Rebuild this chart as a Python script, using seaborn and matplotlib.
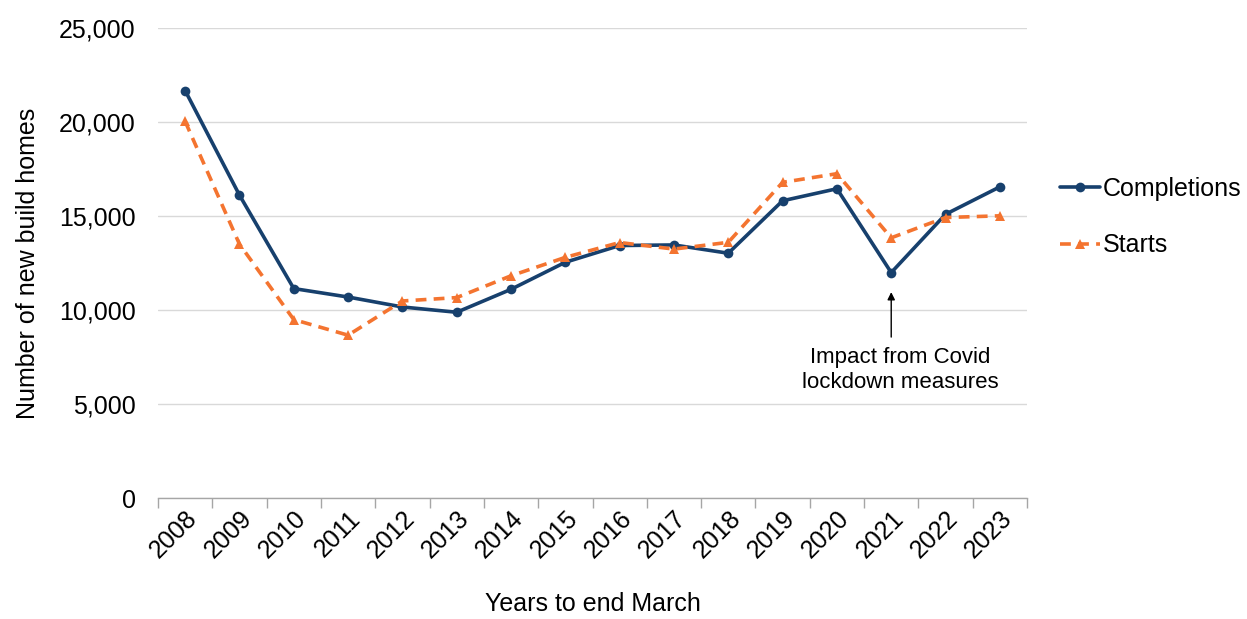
import matplotlib
matplotlib.use("Agg")
import matplotlib.pyplot as plt
import matplotlib.ticker as mticker
import seaborn as sns
import pandas as pd

years = ["2008", "2009", "2010", "2011", "2012", "2013", "2014", "2015",
         "2016", "2017", "2018", "2019", "2020", "2021", "2022", "2023"]
completions = [21670, 16110, 11140, 10690, 10160, 9880, 11100, 12540,
               13430, 13460, 13020, 15810, 16450, 11990, 15090, 16550]
starts = [20030, 13500, 9490, 8660, 10480, 10660, 11820, 12800,
          13590, 13240, 13600, 16790, 17250, 13840, 14920, 15010]

navy = "#17406D"
orange = "#F47430"

sns.set_theme(style="white")
plt.rcParams["font.family"] = ["Liberation Sans", "DejaVu Sans"]
plt.rcParams["text.color"] = "black"
plt.rcParams["axes.labelcolor"] = "black"
plt.rcParams["xtick.color"] = "black"
plt.rcParams["ytick.color"] = "black"

df = pd.DataFrame({
    "pos": list(range(len(years))) * 2,
    "value": completions + starts,
    "series": ["Completions"] * len(years) + ["Starts"] * len(years),
})

fig = plt.figure(figsize=(12.47, 6.19), dpi=100)
ax = fig.add_axes([158 / 1247, 1 - 498 / 619, (1027 - 158) / 1247, (498 - 28) / 619])

sns.lineplot(data=df[df.series == "Completions"], x="pos", y="value", ax=ax,
             color=navy, linewidth=2.6, marker="o", markersize=7,
             markeredgewidth=0, label="Completions")
sns.lineplot(data=df[df.series == "Starts"], x="pos", y="value", ax=ax,
             color=orange, linewidth=2.6, linestyle=(0, (3, 2)), marker="^",
             markersize=7.5, markeredgewidth=0, label="Starts")

ax.set_xlim(-0.5, len(years) - 0.5)
ax.set_ylim(0, 25000)
ax.yaxis.set_major_locator(mticker.MultipleLocator(5000))
ax.yaxis.set_major_formatter(mticker.FuncFormatter(lambda v, p: f"{int(v):,}"))
ax.yaxis.grid(True, color="#D9D9D9", linewidth=1)
ax.set_axisbelow(True)

# category labels centred, tick marks between categories
ax.set_xticks(range(len(years)))
ax.set_xticklabels(years, rotation=45, ha="right", rotation_mode="anchor", fontsize=18)
ax.set_xticks([i - 0.5 for i in range(len(years) + 1)], minor=True)
ax.tick_params(axis="x", which="major", length=0, pad=6)
ax.tick_params(axis="x", which="minor", length=7, color="#A6A6A6", width=1, bottom=True)
ax.tick_params(axis="y", length=0, labelsize=18, pad=16)

for side in ["left", "right", "top"]:
    ax.spines[side].set_visible(False)
ax.spines["bottom"].set_color("#A6A6A6")
ax.spines["bottom"].set_linewidth(1)

ax.set_xlabel("Years to end March", fontsize=18, labelpad=21)
ax.set_ylabel("Number of new build homes", fontsize=18, labelpad=14)

# note on the 2021 dip
ax.annotate("", xy=(13, 10950), xytext=(13, 8560),
            arrowprops=dict(arrowstyle="-|>", color="black", lw=1,
                            shrinkA=0, shrinkB=0, mutation_scale=11))
ax.text(13.17, 8050, "Impact from Covid\nlockdown measures",
        ha="center", va="top", fontsize=16, linespacing=1.3)

ax.legend(loc="center left", bbox_to_anchor=(1052 / 1247, 1 - 217 / 619),
          bbox_transform=fig.transFigure, frameon=False, fontsize=18,
          handlelength=1.6, handletextpad=0.15, labelspacing=1.3,
          borderaxespad=0, borderpad=0.3)

fig.savefig("out.png", dpi=100)
